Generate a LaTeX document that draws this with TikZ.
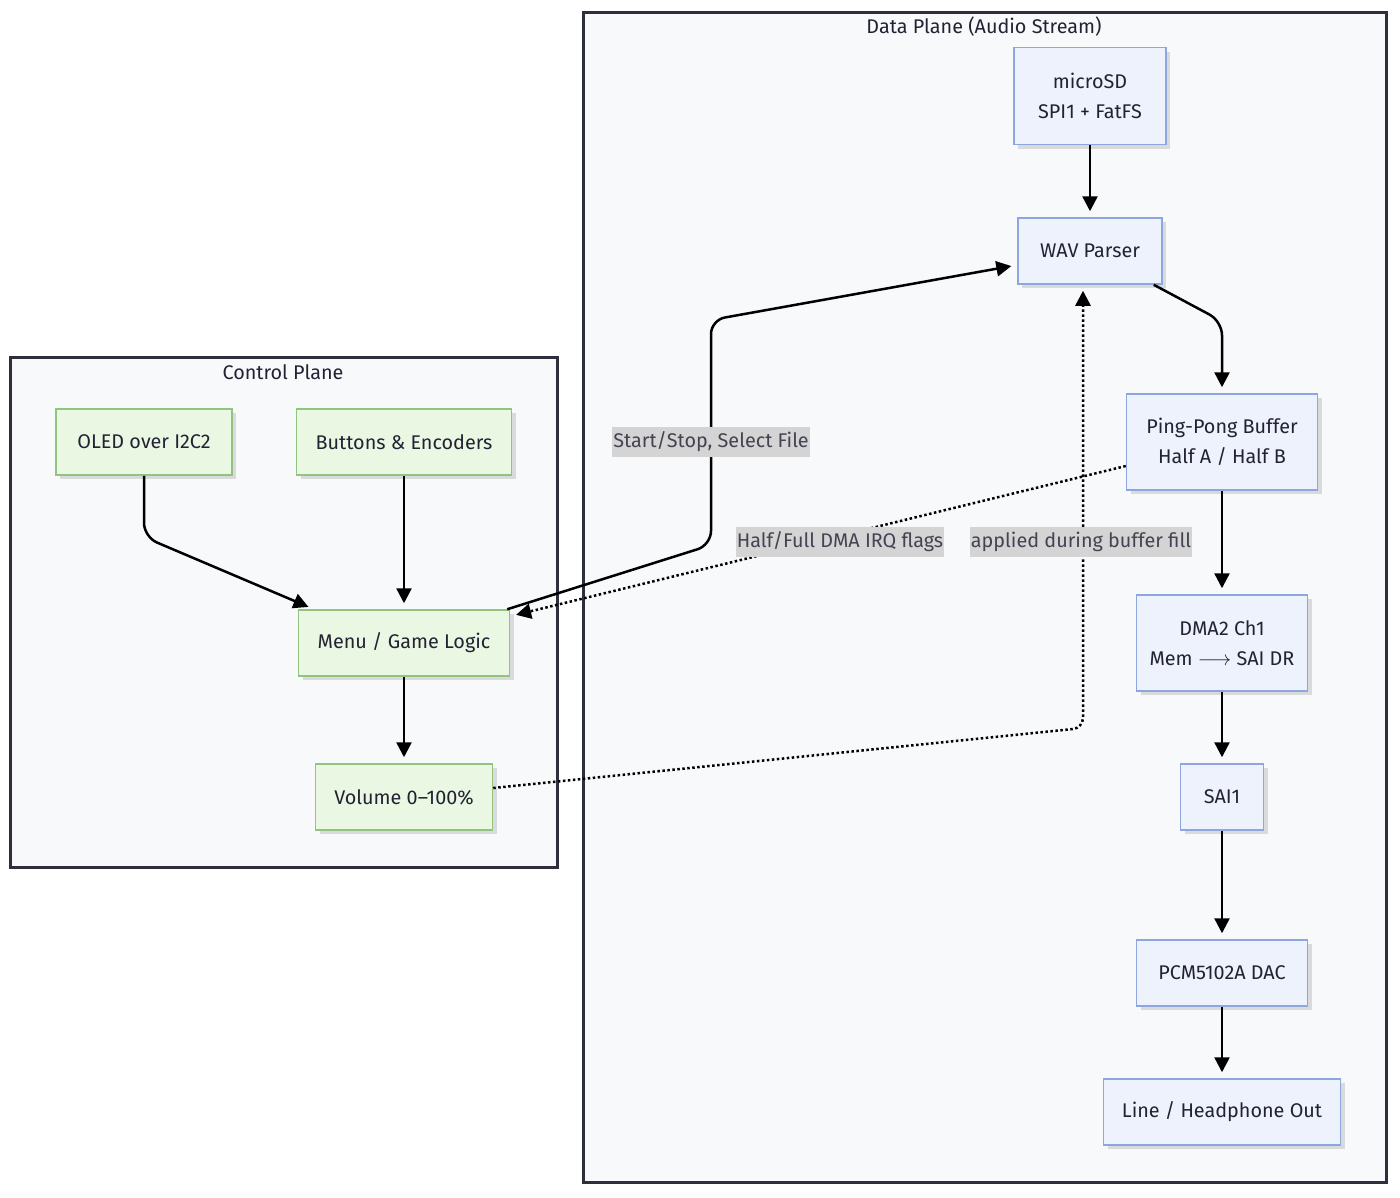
\documentclass[tikz,border=0pt]{standalone}
\usepackage{fontspec}
\setmainfont{Fira Sans}
\usetikzlibrary{arrows.meta,shadows}

\definecolor{planebg}{HTML}{F8F9FB}
\definecolor{planeln}{HTML}{2E2E3C}
\definecolor{ctlfill}{HTML}{EAF7E3}
\definecolor{ctlline}{HTML}{92C47F}
\definecolor{datfill}{HTML}{EEF2FD}
\definecolor{datline}{HTML}{8EA6E0}
\definecolor{lblbg}{HTML}{D4D4D4}
\definecolor{ink}{HTML}{222233}

\tikzset{
  plane/.style={draw=planeln,fill=planebg,line width=3pt},
  blk/.style={draw,line width=1.5pt,minimum height=66pt,inner sep=0pt,align=center,text=ink,
    drop shadow={shadow xshift=4pt,shadow yshift=-4pt,opacity=.12,fill=black}},
  ctl/.style={blk,draw=ctlline,fill=ctlfill},
  dat/.style={blk,draw=datline,fill=datfill},
  flow/.style={line width=2.5pt,-{Triangle[length=15pt,width=15pt]},shorten >=6pt},
  hint/.style={flow,dash pattern=on 2.5pt off 2.5pt},
  lbl/.style={fill=lblbg,inner xsep=1pt,inner ysep=5pt,text=ink!85}
}

\begin{document}
\begin{tikzpicture}[x=1pt,y=-1pt,font=\fontsize{19.8}{30}\selectfont]
\useasboundingbox[fill=white] (0,0) rectangle (1400,1197);
% clusters
\draw[plane] (583,12) rectangle (1386,1182);
\draw[plane] (10,357) rectangle (557,867);
\node[text=ink] (dattitle) at (984,27) {Data Plane (Audio Stream)};
\node[text=ink] (ctltitle) at (283,372) {Control Plane};
% control plane
\node[ctl,minimum width=176pt] (oled) at (144,442) {OLED over I2C2};
\node[ctl,minimum width=215pt] (btns) at (404,442) {Buttons \& Encoders};
\node[ctl,minimum width=211pt] (menu) at (404,643) {Menu / Game Logic};
\node[ctl,minimum width=177pt] (vol) at (404,797) {Volume 0–100\%};
% data plane
\node[dat,minimum width=152pt,minimum height=97pt] (sd) at (1090,96) {microSD\\SPI1 + FatFS};
\node[dat,minimum width=144pt] (wav) at (1090,251) {WAV Parser};
\node[dat,minimum width=191pt,minimum height=96pt] (ping) at (1222,442) {Ping-Pong Buffer\\Half A / Half B};
\node[dat,minimum width=171pt,minimum height=96pt] (dma) at (1222,643) {DMA2 Ch1\\Mem $\longrightarrow$ SAI DR};
\node[dat,minimum width=83pt] (sai) at (1222,797) {SAI1};
\node[dat,minimum width=171pt] (dac) at (1222,973) {PCM5102A DAC};
\node[dat,minimum width=237pt] (out) at (1222,1112) {Line / Headphone Out};
\coordinate (wavin) at ([xshift=-7pt]wav.south);
% solid flows
\draw[flow] (sd) -- (wav);
\draw[flow,rounded corners=14pt] ([xshift=-9pt]wav.south east) -- ([yshift=72pt]ping.north) -- (ping.north);
\draw[flow] (ping) -- (dma);
\draw[flow] (dma) -- (sai);
\draw[flow] (sai) -- (dac);
\draw[flow] (dac) -- (out);
\draw[flow,rounded corners=14pt] (oled.south) -- (144,537) -- ([xshift=-90pt]menu.north);
\draw[flow] (btns) -- (menu);
\draw[flow] (menu) -- (vol);
\draw[flow,rounded corners=14pt] ([xshift=-3pt]menu.north east) -- (711,545) -- (711,320) -- ([yshift=-14pt]wav.west);
% dotted flows
\draw[hint] ([yshift=-24pt]ping.west) -- ([yshift=-7pt]menu.north east);
\draw[hint,rounded corners=10pt] ([yshift=9pt]vol.east) -- (wavin |- 0,728) -- (wavin);
% labels
\node[lbl] (lblsel) at (711,442) {Start/Stop, Select File};
\node[lbl] (lblirq) at (840,542) {Half/Full DMA IRQ flags};
\node[lbl] (lblvol) at (1081,542) {applied during buffer fill};
\end{tikzpicture}
\end{document}
